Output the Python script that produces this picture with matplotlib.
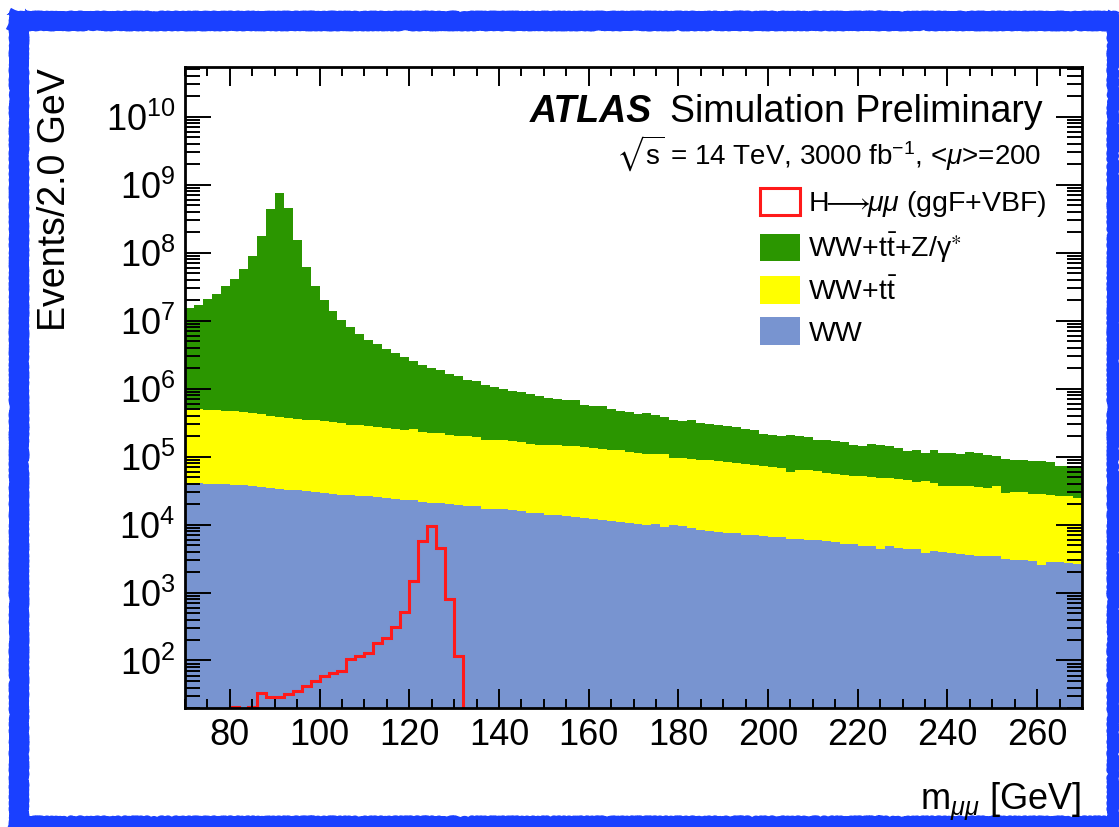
import matplotlib
matplotlib.use('Agg')
import matplotlib.pyplot as plt
import numpy as np
from matplotlib.patches import Patch
from matplotlib.lines import Line2D
from matplotlib.ticker import LogLocator, MultipleLocator, NullFormatter

plt.rcParams['font.family'] = ['Liberation Sans', 'DejaVu Sans']
plt.rcParams['mathtext.fontset'] = 'custom'
plt.rcParams['mathtext.rm'] = 'Liberation Sans'
plt.rcParams['mathtext.it'] = 'Liberation Sans:italic'
plt.rcParams['mathtext.bf'] = 'Liberation Sans:bold'
plt.rcParams['mathtext.fallback'] = 'stixsans'

# 2 GeV bins from 70 to 270 GeV
bin_edges = np.arange(70, 272, 2)

# stacked tops (events / 2 GeV)
ww_tt_z = [1.54e7, 1.72e7, 2.08e7, 2.47e7, 3.2e7, 4.1e7, 5.75e7, 9.0e7, 1.74e8, 4.4e8,
           7.5e8, 4.5e8, 1.55e8, 6.1e7, 3.2e7, 2.0e7, 1.4e7, 1.03e7, 8.1e6, 6.4e6,
           5.25e6, 4.6e6, 3.8e6, 3.35e6, 2.9e6, 2.52e6, 2.25e6, 2.01e6, 1.86e6, 1.66e6,
           1.55e6, 1.36e6, 1.28e6, 1.15e6, 1.06e6, 9.9e5, 9.1e5, 8.8e5, 8.2e5, 7.9e5,
           7.3e5, 7.05e5, 6.7e5, 6.7e5, 5.8e5, 5.6e5, 5.5e5, 5.0e5, 4.74e5, 4.47e5,
           4.28e5, 4.37e5, 4.15e5, 3.84e5, 3.42e5, 3.3e5, 3.42e5, 3.15e5, 3.06e5, 2.95e5,
           2.82e5, 2.7e5, 2.58e5, 2.5e5, 2.18e5, 2.11e5, 2.04e5, 2.11e5, 2.04e5, 1.95e5,
           1.78e5, 1.74e5, 1.68e5, 1.62e5, 1.5e5, 1.45e5, 1.55e5, 1.5e5, 1.42e5, 1.34e5,
           1.2e5, 1.27e5, 1.13e5, 1.24e5, 1.13e5, 1.13e5, 1.1e5, 1.16e5, 1.13e5, 1.07e5,
           1.01e5, 9.25e4, 9.0e4, 8.8e4, 8.5e4, 8.5e4, 8.2e4, 7.2e4, 7.3e4, 7.0e4]

ww_tt = [5.0e5, 5.0e5, 4.9e5, 4.85e5, 4.74e5, 4.63e5, 4.48e5, 4.39e5, 4.28e5, 4.0e5,
         3.83e5, 3.7e5, 3.58e5, 3.42e5, 3.42e5, 3.31e5, 3.2e5, 3.13e5, 2.95e5, 2.95e5,
         2.79e5, 2.73e5, 2.64e5, 2.55e5, 2.47e5, 2.52e5, 2.32e5, 2.25e5, 2.23e5, 2.11e5,
         1.99e5, 2.03e5, 1.95e5, 1.78e5, 1.74e5, 1.74e5, 1.68e5, 1.62e5, 1.55e5, 1.5e5,
         1.5e5, 1.47e5, 1.42e5, 1.42e5, 1.37e5, 1.34e5, 1.3e5, 1.24e5, 1.27e5, 1.18e5,
         1.13e5, 1.09e5, 1.11e5, 1.11e5, 9.6e4, 9.6e4, 9.25e4, 9.0e4, 8.8e4, 8.5e4,
         8.2e4, 8.0e4, 7.7e4, 7.4e4, 7.2e4, 7.05e4, 6.8e4, 5.9e4, 6.45e4, 6.4e4,
         6.1e4, 5.75e4, 5.6e4, 5.4e4, 5.25e4, 5.1e4, 5.0e4, 4.85e4, 4.85e4, 4.7e4,
         4.5e4, 4.2e4, 4.33e4, 4.1e4, 3.66e4, 3.75e4, 3.75e4, 3.66e4, 3.58e4, 3.46e4,
         3.66e4, 2.92e4, 2.98e4, 2.98e4, 2.86e4, 2.86e4, 2.76e4, 2.67e4, 2.6e4, 2.5e4]

ww = [4.1e4, 4.1e4, 4.0e4, 3.95e4, 4.0e4, 3.87e4, 3.78e4, 3.66e4, 3.58e4, 3.46e4,
      3.39e4, 3.27e4, 3.2e4, 3.09e4, 2.99e4, 2.92e4, 2.86e4, 2.76e4, 2.76e4, 2.67e4,
      2.6e4, 2.55e4, 2.47e4, 2.38e4, 2.33e4, 2.27e4, 2.15e4, 2.08e4, 2.08e4, 2.04e4,
      1.97e4, 1.9e4, 1.86e4, 1.7e4, 1.7e4, 1.7e4, 1.66e4, 1.57e4, 1.48e4, 1.48e4,
      1.4e4, 1.36e4, 1.32e4, 1.3e4, 1.25e4, 1.21e4, 1.16e4, 1.12e4, 1.08e4, 1.06e4,
      1.03e4, 9.7e3, 1.03e4, 9.25e3, 9.7e3, 9.5e3, 8.9e3, 8.4e3, 8.0e3, 7.7e3,
      7.5e3, 7.4e3, 7.1e3, 7.1e3, 6.7e3, 6.6e3, 6.6e3, 6.2e3, 6.2e3, 6.0e3,
      5.95e3, 5.7e3, 5.5e3, 5.25e3, 5.1e3, 4.9e3, 4.8e3, 4.4e3, 4.8e3, 4.55e3,
      4.4e3, 4.3e3, 3.83e3, 4.05e3, 3.9e3, 3.83e3, 3.7e3, 3.6e3, 3.4e3, 3.5e3,
      3.5e3, 3.1e3, 3.05e3, 3.05e3, 2.95e3, 2.5e3, 2.85e3, 2.8e3, 2.7e3, 2.6e3]

h_mumu = [0, 0, 0, 0, 0, 21, 0, 21, 33.5, 29,
          29.5, 32, 36, 42.5, 50, 59, 66, 70, 104, 116,
          127, 182, 216, 310, 513, 1470, 5700, 9400, 4550, 810,
          116] + [0] * 69

labels = [r'H$\!\!\longrightarrow\!\!\mu\mu$ (ggF+VBF)',
          r'WW+$\mathrm{t\bar{t}}$+Z/$\mathrm{\gamma}^{\ast}$',
          r'WW+$\mathrm{t\bar{t}}$',
          'WW']

W, H = 1119, 827
def fx(x):
    return x / W
def fy(y):
    return 1 - y / H

fig = plt.figure(figsize=(W / 100, H / 100), dpi=100)
ax = fig.add_axes([fx(185), fy(708), fx(1082) - fx(185), fy(67) - fy(708)])

green = '#2b9600'
yellow = '#ffff00'
blue = '#7894d0'
red = '#ff1a1a'

ax.stairs(ww_tt_z, bin_edges, fill=True, color=green, baseline=1e-1, lw=0)
ax.stairs(ww_tt, bin_edges, fill=True, color=yellow, baseline=1e-1, lw=0)
ax.stairs(ww, bin_edges, fill=True, color=blue, baseline=1e-1, lw=0)
ax.stairs(h_mumu, bin_edges, color=red, lw=2.2)

ax.set_yscale('log')
ax.set_xlim(70, 270)
ax.set_ylim(20, 5.4e10)

ax.xaxis.set_major_locator(MultipleLocator(20))
ax.xaxis.set_minor_locator(MultipleLocator(5))
ax.yaxis.set_major_locator(LogLocator(base=10, numticks=20))
ax.yaxis.set_minor_locator(LogLocator(base=10, subs=np.arange(2, 10), numticks=20))
ax.yaxis.set_minor_formatter(NullFormatter())

ax.tick_params(which='both', direction='in', top=True, right=True, width=1.4,
               labelsize=26)
ax.tick_params(axis='x', which='major', length=13.5, pad=7)
ax.tick_params(axis='x', which='minor', length=6.5)
ax.tick_params(axis='y', which='major', length=19, pad=7)
ax.tick_params(axis='y', which='minor', length=10.5)
for s in ax.spines.values():
    s.set_linewidth(2)

fig.text(fx(55), fy(68), 'Events/2.0 GeV', rotation=90, ha='center', va='top',
         fontsize=27)
fig.text(fx(1081), fy(810), r'm$_{\mu\mu}$ [GeV]', ha='right', va='baseline',
         fontsize=26)

fig.text(fx(652), fy(122), 'ATLAS', ha='right', va='baseline', fontsize=27,
         fontweight='bold', fontstyle='italic')
fig.text(fx(1043), fy(122), 'Simulation Preliminary', ha='right', va='baseline',
         fontsize=27)
fig.text(fx(1041), fy(165),
         r'$\sqrt{\mathrm{s}}$ = 14 TeV, 3000 fb$^{\mathrm{-1}}$, <$\mu$>=200',
         ha='right', va='baseline', fontsize=20)

handles = [Patch(facecolor='none', edgecolor=red, lw=2.2),
           Patch(facecolor=green, edgecolor='none'),
           Patch(facecolor=yellow, edgecolor='none'),
           Patch(facecolor=blue, edgecolor='none')]
fig.legend(handles, labels, loc='upper left', bbox_to_anchor=(fx(760), fy(188)),
           frameon=False, fontsize=20.5, borderpad=0, borderaxespad=0,
           handlelength=1.4, handleheight=1.1, handletextpad=0.3,
           labelspacing=0.4)

# rough blue frame around the picture
frame = [((19, 12), (19, 827), 13),
         ((10, 21), (1119, 21), 13),
         ((1113, 12), (1113, 827), 7.5),
         ((10, 822), (1119, 822), 7.5)]
for (x0, y0), (x1, y1), lw in frame:
    ln = Line2D([fx(x0), fx(x1)], [fy(y0), fy(y1)], transform=fig.transFigure,
                color='#1a40ff', lw=lw, solid_capstyle='butt')
    ln.set_sketch_params(scale=1.5, length=6, randomness=3)
    fig.add_artist(ln)

fig.savefig('out.png', dpi=100)
